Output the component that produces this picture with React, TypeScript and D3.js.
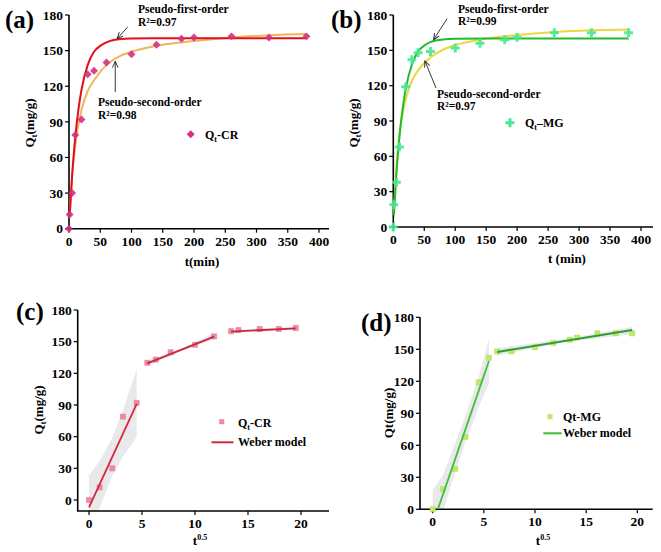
import React from "react";
import * as d3 from "d3";

// ---------- data ----------
const tMin = [0, 1, 5, 10, 20, 30, 40, 60, 100, 140, 180, 200, 260, 320, 380];
const qCR = [0, 12, 30, 79, 92, 130, 133, 140, 147, 155, 160, 161, 162, 161, 162];
const qMG = [0, 19, 38, 68, 119, 142, 148, 149, 152, 156, 159, 161, 165, 165, 165];
const sqrtT = [0, 1, 2.2, 3.2, 4.5, 5.5, 6.3, 7.7, 10, 11.8, 13.4, 14.1, 16.1, 17.9, 19.5];
const qCRw = [0, 12, 30, 79, 92, 130, 133, 140, 147, 155, 160, 161, 162, 162, 163];
const qMGw = [0, 19, 38, 68, 119, 142, 148, 148, 152, 156, 159, 161, 165, 165, 165];

// fitted curves
const pfoCR_t = [1, 5, 10, 15, 20, 30, 40, 50, 60, 80, 100, 150, 380];
const pfoCR_q = [10, 45, 77, 100, 117, 138, 149, 154, 157, 159.6, 160.3, 160.5, 160.5];
const psoCR_t = [1, 5, 10, 20, 30, 40, 60, 80, 100, 150, 200, 260, 320, 380];
const psoCR_q = [11, 44, 70, 100, 116, 125, 138, 145, 149, 155, 158, 161, 163, 164];
const pfoMG_t = [1, 5, 10, 15, 20, 30, 40, 50, 60, 80, 100, 150, 380];
const pfoMG_q = [10, 45, 77, 100, 117, 138, 149, 154, 157, 159.3, 159.8, 160, 160];
const psoMG_t = [1, 5, 10, 20, 30, 40, 60, 80, 100, 150, 200, 260, 320, 380];
const psoMG_q = [13, 51, 79, 108, 124, 133, 144, 150.5, 154.5, 160, 163, 165.5, 167, 167.7];

// Weber-Morris segments
const webC1_x = [0, 4.5], webC1_q = [-7, 91];
const webC2_x = [5.5, 11.8], webC2_q = [129.5, 154.7];
const webC3_x = [13.4, 19.5], webC3_q = [159.5, 162.6];
const bandC1_x = [0, 1, 2.2, 3.2, 4.5], bandC1_lo = [-37, -7, 23, 41, 60], bandC1_hi = [23, 37, 59, 85, 124];
const bandC2_x = [5.5, 8.6, 11.8], bandC2_lo = [127, 140.5, 152], bandC2_hi = [132, 143, 158];
const bandC3_x = [13.4, 16.5, 19.5], bandC3_lo = [158, 161, 161], bandC3_hi = [161, 163, 164];
const webD1_x = [0, 5.5], webD1_q = [-14, 139];
const webD2_x = [6.3, 19.5], webD2_q = [147.5, 168];
const bandD1_x = [0, 1, 2.2, 3.2, 4.5, 5.5], bandD1_lo = [-45, -2, 35, 63, 96, 118], bandD1_hi = [18, 32, 62, 88, 124, 160];
const bandD2_x = [6.3, 13, 19.5], bandD2_lo = [144, 157, 164], bandD2_hi = [151, 160, 171];

// ticks
const kinTicks = [0, 50, 100, 150, 200, 250, 300, 350, 400];
const qTicks = [0, 30, 60, 90, 120, 150, 180];
const webTicks = [0, 5, 10, 15, 20];

const FONT = "'Liberation Serif', 'Times New Roman', serif";
const zip = (a: number[], b: number[]) => a.map((v, i) => [v, b[i]] as [number, number]);
const zip3 = (a: number[], b: number[], c: number[]) => a.map((v, i) => [v, b[i], c[i]] as [number, number, number]);

function Axes({ x, y, left, bottom, right, top, xTicks, yTicks }: any) {
  return (
    <g fontFamily={FONT} fontWeight="bold" fontSize={13.5} fill="#000">
      <line x1={left} x2={left} y1={top} y2={bottom} stroke="#000" strokeWidth={1.6} />
      <line x1={left - 0.8} x2={right} y1={bottom} y2={bottom} stroke="#000" strokeWidth={1.6} />
      {yTicks.map((v: number) => (
        <g key={"y" + v}>
          <line x1={left - 4} x2={left} y1={y(v)} y2={y(v)} stroke="#000" strokeWidth={1.2} />
          <text x={left - 6} y={y(v)} dy="0.35em" textAnchor="end">{v}</text>
        </g>
      ))}
      {xTicks.map((v: number) => (
        <g key={"x" + v}>
          <line x1={x(v)} x2={x(v)} y1={bottom} y2={bottom + 4} stroke="#000" strokeWidth={1.2} />
          <text x={x(v)} y={bottom + 17} textAnchor="middle">{v}</text>
        </g>
      ))}
    </g>
  );
}

function YLabel({ x, y, sub }: { x: number; y: number; sub: boolean }) {
  return (
    <text transform={`translate(${x},${y}) rotate(-90)`} textAnchor="middle" fontFamily={FONT} fontWeight="bold" fontSize={13}>
      {sub ? (
        <>
          <tspan>Q</tspan>
          <tspan dy={3} fontSize={9}>t</tspan>
          <tspan dy={-3}>(mg/g)</tspan>
        </>
      ) : (
        "Qt(mg/g)"
      )}
    </text>
  );
}

export default function App() {
  const xa = d3.scaleLinear().domain([0, 400]).range([69, 319]);
  const ya = d3.scaleLinear().domain([0, 180]).range([228.7, 15]);
  const xb = d3.scaleLinear().domain([0, 400]).range([393.3, 641]);
  const yb = d3.scaleLinear().domain([0, 180]).range([227, 15]);
  const xc = d3.scaleLinear().domain([0, 20]).range([89, 301]);
  const yc = d3.scaleLinear().domain([0, 180]).range([500, 310]);
  const xd = d3.scaleLinear().domain([0, 20]).range([432.7, 637.3]);
  const yd = d3.scaleLinear().domain([0, 180]).range([509.3, 317.3]);

  const lineFor = (x: any, y: any) =>
    d3.line<[number, number]>().x((d) => x(d[0])).y((d) => y(d[1])).curve(d3.curveMonotoneX);
  const straight = (x: any, y: any) => d3.line<[number, number]>().x((d) => x(d[0])).y((d) => y(d[1]));
  const areaFor = (x: any, y: any) =>
    d3.area<[number, number, number]>().x((d) => x(d[0])).y0((d) => y(d[1])).y1((d) => y(d[2]));

  const diamond = d3.symbol(d3.symbolDiamond2, 40)()!;
  const cross = d3.symbol(d3.symbolCross, 44)()!;
  const square = d3.symbol(d3.symbolSquare, 26)()!;

  const la = lineFor(xa, ya), lb = lineFor(xb, yb);
  const sc = straight(xc, yc), sd = straight(xd, yd);
  const ac = areaFor(xc, yc), ad = areaFor(xd, yd);

  const txt = { fontFamily: FONT, fontWeight: "bold" as const, fontSize: 11.5, fill: "#000" };
  const arrow = (x1: number, y1: number, x2: number, y2: number) => (
    <line x1={x1} y1={y1} x2={x2} y2={y2} stroke="#222" strokeWidth={0.9} markerEnd="url(#arr)" />
  );

  return (
    <svg width={661} height={552} style={{ position: "absolute", left: 0, top: 0, background: "#fff" }}>
      <defs>
        <marker id="arr" viewBox="0 0 10 10" refX={9} refY={5} markerWidth={7} markerHeight={7} orient="auto" markerUnits="userSpaceOnUse">
          <path d="M0,1 L9,5 L0,9" fill="none" stroke="#222" strokeWidth={1.3} />
        </marker>
        <clipPath id="clipC"><rect x={78} y={300} width={252} height={211} /></clipPath>
        <clipPath id="clipD"><rect x={420.5} y={300} width={232} height={209} /></clipPath>
      </defs>

      {/* ---------- (a) ---------- */}
      <text x={5} y={28} fontFamily={FONT} fontWeight="bold" fontSize={25}>(a)</text>
      <Axes x={xa} y={ya} left={69} bottom={228.7} right={329} top={15} xTicks={kinTicks} yTicks={qTicks} />
      <YLabel x={34} y={123} sub />
      <text x={202} y={266} textAnchor="middle" fontFamily={FONT} fontWeight="bold" fontSize={13}>t(min)</text>
      <path d={la(zip(psoCR_t, psoCR_q))!} fill="none" stroke="#f2b55c" strokeWidth={2} />
      <path d={la(zip(pfoCR_t, pfoCR_q))!} fill="none" stroke="#e0101c" strokeWidth={2} />
      {zip(tMin, qCR).map((d, i) => (
        <path key={i} d={diamond} transform={`translate(${xa(d[0])},${ya(d[1])})`} fill="#d6307f" opacity={0.9} />
      ))}
      <text x={138} y={12.5} {...txt}>Pseudo-first-order</text>
      <text x={138} y={25.5} {...txt}>R²=0.97</text>
      {arrow(xa(94), ya(170), xa(77), ya(160))}
      <text x={98} y={106} {...txt}>Pseudo-second-order</text>
      <text x={98} y={118.5} {...txt}>R²=0.98</text>
      {arrow(xa(74), ya(115), xa(74), ya(141))}
      <path d={diamond} transform="translate(190.7,134.3)" fill="#d6307f" />
      <text x={205} y={138.5} {...txt} fontSize={12}>
        <tspan>Q</tspan><tspan dy={3} fontSize={8}>t</tspan><tspan dy={-3}>-CR</tspan>
      </text>

      {/* ---------- (b) ---------- */}
      <text x={331} y={28} fontFamily={FONT} fontWeight="bold" fontSize={25}>(b)</text>
      <Axes x={xb} y={yb} left={393.3} bottom={227} right={653} top={15} xTicks={kinTicks} yTicks={qTicks} />
      <YLabel x={358} y={123} sub />
      <text x={567} y={263} textAnchor="middle" fontFamily={FONT} fontWeight="bold" fontSize={13}>t (min)</text>
      <path d={lb(zip(psoMG_t, psoMG_q))!} fill="none" stroke="#ecd743" strokeWidth={2} />
      <path d={lb(zip(pfoMG_t, pfoMG_q))!} fill="none" stroke="#22bb2a" strokeWidth={2} />
      {zip(tMin, qMG).map((d, i) => (
        <path key={i} d={cross} transform={`translate(${xb(d[0])},${yb(d[1])})`} fill="#45e890" opacity={0.9} />
      ))}
      <text x={458} y={12.5} {...txt}>Pseudo-first-order</text>
      <text x={458} y={25} {...txt}>R²=0.99</text>
      {arrow(xb(87), yb(177), xb(65), yb(159))}
      <text x={437} y={97.5} {...txt}>Pseudo-second-order</text>
      <text x={437} y={110} {...txt}>R²=0.97</text>
      {arrow(xb(69), yb(118), xb(51), yb(141))}
      <path d={cross} transform="translate(510,122.7)" fill="#45e890" />
      <text x={525} y={126.5} {...txt} fontSize={12}>
        <tspan>Q</tspan><tspan dy={3} fontSize={8}>t</tspan><tspan dy={-3}>–MG</tspan>
      </text>

      {/* ---------- (c) ---------- */}
      <text x={16} y={320} fontFamily={FONT} fontWeight="bold" fontSize={25}>(c)</text>
      <g clipPath="url(#clipC)">
        <path d={ac(zip3(bandC1_x, bandC1_lo, bandC1_hi))!} fill="#e4e4e6" opacity={0.8} />
        <path d={ac(zip3(bandC2_x, bandC2_lo, bandC2_hi))!} fill="#e4e4e6" opacity={0.8} />
        <path d={ac(zip3(bandC3_x, bandC3_lo, bandC3_hi))!} fill="#e4e4e6" opacity={0.8} />
      </g>
      <Axes x={xc} y={yc} left={77.7} bottom={511} right={329} top={310} xTicks={webTicks} yTicks={qTicks} />
      <YLabel x={43} y={410} sub />
      <text x={200} y={545} textAnchor="middle" fontFamily={FONT} fontWeight="bold" fontSize={13}>
        <tspan>t</tspan><tspan dy={-5} fontSize={8}>0.5</tspan>
      </text>
      {zip(sqrtT, qCRw).map((d, i) => (
        <path key={i} d={square} transform={`translate(${xc(d[0])},${yc(d[1])})`} fill="#ee8aa8" stroke="#e06a90" strokeWidth={0.5} />
      ))}
      <g clipPath="url(#clipC)">
        <path d={sc(zip(webC1_x, webC1_q))!} stroke="#d4283a" strokeWidth={1.8} fill="none" />
        <path d={sc(zip(webC2_x, webC2_q))!} stroke="#c8283a" strokeWidth={1.8} fill="none" />
        <path d={sc(zip(webC3_x, webC3_q))!} stroke="#c8283a" strokeWidth={1.8} fill="none" />
      </g>
      <path d={square} transform="translate(221.7,421.7)" fill="#ee8aa8" />
      <text x={238} y={426.5} {...txt} fontSize={12}>
        <tspan>Q</tspan><tspan dy={3} fontSize={8}>t</tspan><tspan dy={-3}>-CR</tspan>
      </text>
      <line x1={211.5} x2={233.5} y1={442.3} y2={442.3} stroke="#d4283a" strokeWidth={2} />
      <text x={238} y={446} {...txt} fontSize={12}>Weber model</text>

      {/* ---------- (d) ---------- */}
      <text x={361} y={331} fontFamily={FONT} fontWeight="bold" fontSize={25}>(d)</text>
      <g clipPath="url(#clipD)">
        <path d={ad(zip3(bandD1_x, bandD1_lo, bandD1_hi))!} fill="#e4e4e6" opacity={0.8} />
        <path d={ad(zip3(bandD2_x, bandD2_lo, bandD2_hi))!} fill="#e4e4e6" opacity={0.8} />
      </g>
      <Axes x={xd} y={yd} left={420} bottom={509.3} right={652.7} top={317.3} xTicks={webTicks} yTicks={qTicks} />
      <YLabel x={393} y={413} sub={false} />
      <text x={543} y={545} textAnchor="middle" fontFamily={FONT} fontWeight="bold" fontSize={13}>
        <tspan>t</tspan><tspan dy={-5} fontSize={8}>0.5</tspan>
      </text>
      {zip(sqrtT, qMGw).map((d, i) => (
        <path key={i} d={square} transform={`translate(${xd(d[0])},${yd(d[1])})`} fill="#bfea6a" stroke="#a6d850" strokeWidth={0.5} />
      ))}
      <g clipPath="url(#clipD)">
        <path d={sd(zip(webD1_x, webD1_q))!} stroke="#3cc03a" strokeWidth={1.8} fill="none" />
        <path d={sd(zip(webD2_x, webD2_q))!} stroke="#2f9e34" strokeWidth={2} fill="none" />
      </g>
      <path d={square} transform="translate(550,416.7)" fill="#bfea6a" />
      <text x={563} y={420.5} {...txt} fontSize={12}>Qt-MG</text>
      <line x1={543.3} x2={561.7} y1={433.3} y2={433.3} stroke="#3cc03a" strokeWidth={2} />
      <text x={563} y={437} {...txt} fontSize={12}>Weber model</text>
    </svg>
  );
}
